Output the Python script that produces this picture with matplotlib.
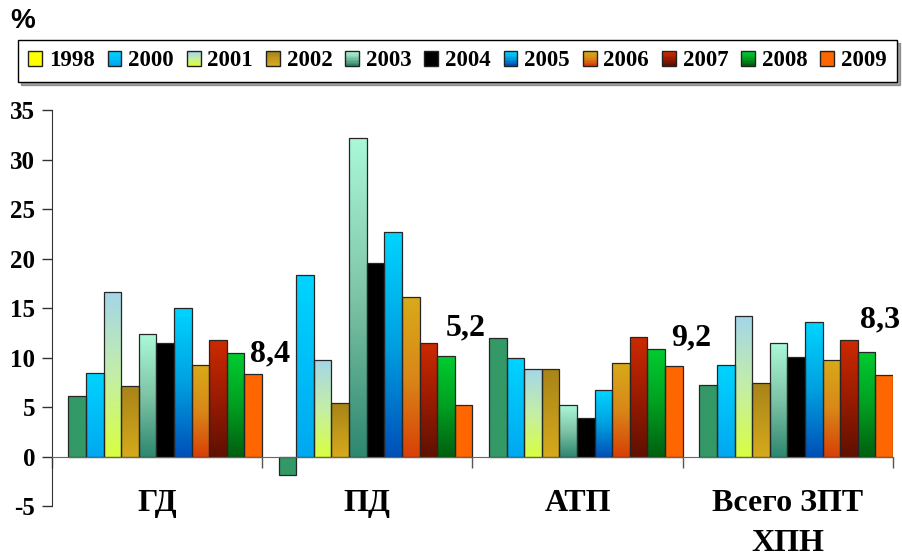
import matplotlib
matplotlib.use("Agg")
import matplotlib.pyplot as plt
import numpy as np
from matplotlib.colors import to_rgb
from matplotlib.legend_handler import HandlerBase
from matplotlib.patches import Rectangle

plt.rcParams['font.family'] = ['Liberation Serif', 'DejaVu Serif']
plt.rcParams['font.weight'] = 'bold'
plt.rcParams['axes.unicode_minus'] = False

# data
groups = ["ГД", "ПД", "АТП", "Всего ЗПТ\nХПН"]
years = ["1998", "2000", "2001", "2002", "2003", "2004",
         "2005", "2006", "2007", "2008", "2009"]
v1998 = [6.1, -1.8, 12.0, 7.2]
v2000 = [8.5, 18.3, 10.0, 9.3]
v2001 = [16.6, 9.8, 8.9, 14.2]
v2002 = [7.1, 5.4, 8.9, 7.4]
v2003 = [12.4, 32.2, 5.2, 11.5]
v2004 = [11.5, 19.6, 3.9, 10.1]
v2005 = [15.0, 22.7, 6.7, 13.6]
v2006 = [9.3, 16.1, 9.5, 9.8]
v2007 = [11.8, 11.5, 12.1, 11.8]
v2008 = [10.5, 10.2, 10.9, 10.6]
v2009 = [8.4, 5.2, 9.2, 8.3]
series = [v1998, v2000, v2001, v2002, v2003, v2004,
          v2005, v2006, v2007, v2008, v2009]

# gradient stops, top -> bottom
bar_stops = [
    ["#339966"],
    ["#00D4FF", "#00A8F0"],
    ["#A4D6E8", "#C4EEA8", "#D8FF40"],
    ["#A88418", "#D6AA1C"],
    ["#AAF8D8", "#7EC4A6", "#2E8870"],
    ["#000000"],
    ["#00D4FF", "#00A0E0", "#0050B8"],
    ["#D8AA18", "#D88818", "#D84008"],
    ["#CC2A00", "#9A1C00", "#601000"],
    ["#00CC30", "#00A020", "#006010"],
    ["#FF6600"],
]
legend_stops = [["#FFFF00"]] + bar_stops[1:]

# where the 2009 value labels sit (offset from group start, y)
label_dx = [1.04, 0.97, 1.04, 0.94]
label_y = [10.4, 13.0, 12.0, 13.8]


def grad_img(stops, n=64):
    cols = np.array([to_rgb(c) for c in stops])
    if len(cols) == 1:
        cols = np.vstack([cols, cols])
    pos = np.linspace(0, 1, len(cols))
    t = np.linspace(0, 1, n)
    img = np.stack([np.interp(t, pos, cols[:, k]) for k in range(3)], axis=-1)
    return img[:, None, :]


class GradKey(Rectangle):
    def __init__(self, stops):
        super().__init__((0, 0), 1, 1)
        self.stops = stops


class GradHandler(HandlerBase):
    def create_artists(self, legend, orig_handle, xdescent, ydescent,
                       width, height, fontsize, trans):
        img = grad_img(orig_handle.stops, 10)[:, 0, :]
        n = len(img)
        arts = []
        for k in range(n):
            arts.append(Rectangle((-xdescent, -ydescent + height * (n - 1 - k) / n),
                                  width, height / n, facecolor=img[k],
                                  edgecolor='none', transform=trans))
        arts.append(Rectangle((-xdescent, -ydescent), width, height,
                              facecolor='none', edgecolor='#222222', lw=1.0,
                              transform=trans))
        return arts


fig = plt.figure(figsize=(9.03, 5.56), dpi=100)
ax = fig.add_axes([51.7 / 903, 1 - 506.3 / 556, 841.3 / 903, 396.3 / 556])

n_ser = len(series)
gap = 0.079
w = (1 - gap) / n_ser
x0 = np.arange(len(groups))

for j, vals in enumerate(series):
    bars = ax.bar(x0 + gap + j * w, vals, width=w, align='edge',
                  facecolor='none', edgecolor='#262626', lw=0.9, zorder=3)
    for rect in bars:
        bx, by = rect.get_x(), rect.get_y()
        bw, bh = rect.get_width(), rect.get_height()
        lo, hi = min(by, by + bh), max(by, by + bh)
        im = ax.imshow(grad_img(bar_stops[j]), extent=[bx, bx + bw, lo, hi],
                       origin='upper', aspect='auto', zorder=2,
                       interpolation='bilinear')
        im.set_clip_path(rect)

# value labels for 2009
for i, v in enumerate(v2009):
    ax.text(x0[i] + label_dx[i], label_y[i], f"{v:.1f}".replace('.', ','),
            ha='center', va='center', fontsize=23, fontweight='bold', zorder=5)

ax.set_xlim(0, len(groups))
ax.set_ylim(-5, 35)
ax.set_yticks(np.arange(-5, 36, 5))
ax.tick_params(axis='y', direction='out', length=7, width=1, color='#333333',
               labelsize=18, pad=5)
for lab in ax.get_yticklabels():
    lab.set_fontweight('bold')

ax.spines['top'].set_visible(False)
ax.spines['right'].set_visible(False)
ax.spines['left'].set_color('#333333')
ax.spines['bottom'].set_position(('data', 0))
ax.spines['bottom'].set_color('#666666')
ax.spines['bottom'].set_zorder(4)

ax.set_xticks(np.arange(len(groups) + 1))
ax.set_xticklabels([])
ax.set_xticks(x0 + 0.5, minor=True)
ax.set_xticklabels(groups, minor=True, fontsize=23, fontweight='bold',
                   linespacing=1.5)
ax.tick_params(axis='x', which='major', direction='out', length=8,
               width=1, color='#555555')
ax.tick_params(axis='x', which='minor', length=0, pad=23)

fig.text(10 / 903, 1 - 8 / 556, '%', ha='left', va='top', fontsize=20,
         fontweight='bold', family='Liberation Sans')

handles = [GradKey(s) for s in legend_stops]
leg = fig.legend(handles, years, handler_map={GradKey: GradHandler()},
                 loc='center', ncol=n_ser, mode='expand',
                 bbox_to_anchor=(18 / 903, 1 - 81 / 556, 879 / 903, 40 / 556),
                 prop={'family': 'Liberation Serif', 'weight': 'bold', 'size': 16.5},
                 handlelength=0.6, handleheight=0.6, handletextpad=0.3,
                 borderaxespad=0, borderpad=0.45, fancybox=False, shadow=True,
                 framealpha=1)
leg.get_frame().set_edgecolor('black')
leg.get_frame().set_linewidth(1.0)

fig.savefig('out.png', dpi=100)
